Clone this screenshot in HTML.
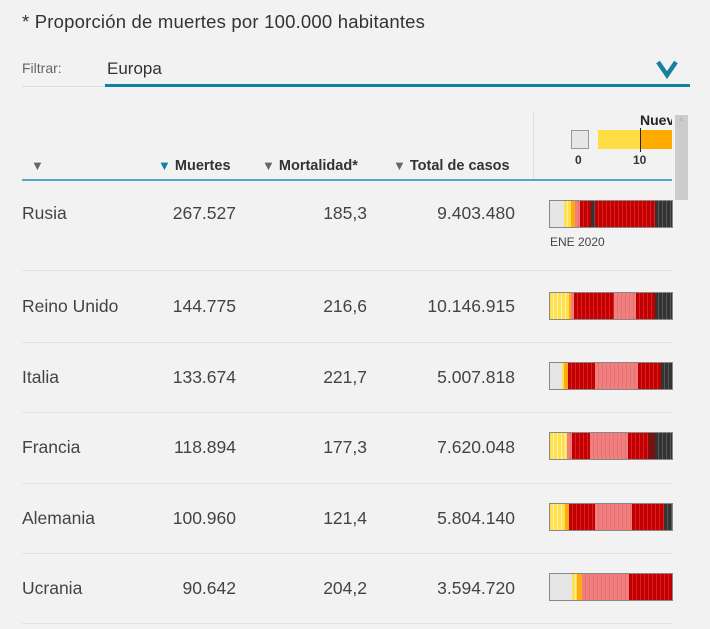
<!DOCTYPE html>
<html><head><meta charset="utf-8"><style>
body{margin:0;width:710px;height:629px;background:#f2f2f2;font-family:"Liberation Sans",sans-serif;color:#333;position:relative;overflow:hidden}
.a{position:absolute;white-space:nowrap}
.n{font-size:17.5px;color:#444}
.r{text-align:right}
.h{font-size:14.5px;font-weight:bold;color:#333;top:158px}
.tri{color:#666;font-size:13px}
.sep{position:absolute;left:22px;width:650px;height:1px;background:#e2e2e2}
.bar{position:absolute;left:549px;width:122px;height:26px;border:1px solid #888;display:flex;overflow:hidden}
.bar div{height:100%}
.g{background:#e6e6e6}.y{background:repeating-linear-gradient(90deg,#ffe050 0 3px,#fff0a0 3px 4px)}.o{background:#ffaa10}
.p{background:repeating-linear-gradient(90deg,#f08080 0 3px,#e87070 3px 4px)}
.rd{background:repeating-linear-gradient(90deg,#c00000 0 3px,#e02020 3px 4px)}
.d{background:repeating-linear-gradient(90deg,#333 0 3px,#555 3px 4px)}
</style></head><body>
<div class="a" style="left:22px;top:11px;font-size:18.5px;color:#333;letter-spacing:0.2px">* Proporción de muertes por 100.000 habitantes</div>
<div class="a" style="left:22px;top:60px;font-size:14px;color:#666">Filtrar:</div>
<div class="a" style="left:107px;top:59px;font-size:17px;color:#333">Europa</div>
<div class="a" style="left:22px;top:86px;width:83px;height:1px;background:#ddd"></div>
<div class="a" style="left:105px;top:84px;width:585px;height:3px;background:#17809e"></div>
<svg class="a" style="left:655px;top:59px" width="24" height="20"><path d="M3 3 L12 16 L21 3" fill="none" stroke="#17809e" stroke-width="4.5"/></svg>

<div class="a" style="left:533px;top:112px;width:1px;height:68px;background:#e0e0e0"></div>
<div class="a" style="left:675px;top:115px;width:13px;height:85px;background:#ccc"></div>
<div class="a" style="left:677px;top:114px;font-size:8px;color:#bbb">▲</div>
<div class="a" style="left:640px;top:112px;font-size:14px;font-weight:bold;color:#222;width:32px;overflow:hidden">Nuevos</div>
<div class="a" style="left:571px;top:130px;width:16px;height:17px;background:#e6e6e6;border:1px solid #999"></div>
<div class="a" style="left:598px;top:130px;width:42px;height:19px;background:#ffdd44"></div>
<div class="a" style="left:640px;top:130px;width:32px;height:19px;background:#ffaa00"></div>
<div class="a" style="left:640px;top:128px;width:1px;height:24px;background:#222"></div>
<div class="a" style="left:575px;top:153px;font-size:12px;font-weight:bold">0</div>
<div class="a" style="left:633px;top:153px;font-size:12px;font-weight:bold">10</div>

<div class="a tri" style="left:31px;top:158px">▼</div>
<div class="a h" style="left:158px"><span style="color:#17809e;font-size:13px">▼</span> Muertes</div>
<div class="a h" style="left:262px"><span class="tri">▼</span> Mortalidad*</div>
<div class="a h" style="left:393px"><span class="tri">▼</span> Total de casos</div>
<div class="a" style="left:22px;top:179px;width:650px;height:2px;background:#5aa6c0"></div>

<div class="a n" style="left:22px;top:203px">Rusia</div>
<div class="a n r" style="right:474px;top:203px">267.527</div>
<div class="a n r" style="right:343px;top:203px">185,3</div>
<div class="a n r" style="right:195px;top:203px">9.403.480</div>
<div class="bar" style="top:200px"><div class="g" style="width:14px"></div><div class="y" style="width:7px"></div><div class="o" style="width:4px"></div><div class="p" style="width:5px"></div><div class="rd" style="width:11px"></div><div class="d" style="width:4px"></div><div class="rd" style="width:60px"></div><div class="d" style="width:17px"></div></div>
<div class="a" style="left:550px;top:235px;font-size:12px;color:#444">ENE 2020</div>
<div class="sep" style="top:270px"></div>

<div class="a n" style="left:22px;top:296px">Reino Unido</div>
<div class="a n r" style="right:474px;top:296px">144.775</div>
<div class="a n r" style="right:343px;top:296px">216,6</div>
<div class="a n r" style="right:195px;top:296px">10.146.915</div>
<div class="bar" style="top:292px"><div class="y" style="width:19px"></div><div class="o" style="width:2px"></div><div class="p" style="width:3px"></div><div class="rd" style="width:40px"></div><div class="p" style="width:22px"></div><div class="rd" style="width:19px"></div><div class="d" style="width:17px"></div></div>
<div class="sep" style="top:342px"></div>

<div class="a n" style="left:22px;top:367px">Italia</div>
<div class="a n r" style="right:474px;top:367px">133.674</div>
<div class="a n r" style="right:343px;top:367px">221,7</div>
<div class="a n r" style="right:195px;top:367px">5.007.818</div>
<div class="bar" style="top:362px"><div class="g" style="width:12px"></div><div class="y" style="width:2px"></div><div class="o" style="width:4px"></div><div class="rd" style="width:27px"></div><div class="p" style="width:43px"></div><div class="rd" style="width:23px"></div><div class="d" style="width:11px"></div></div>
<div class="sep" style="top:412px"></div>

<div class="a n" style="left:22px;top:437px">Francia</div>
<div class="a n r" style="right:474px;top:437px">118.894</div>
<div class="a n r" style="right:343px;top:437px">177,3</div>
<div class="a n r" style="right:195px;top:437px">7.620.048</div>
<div class="bar" style="top:432px"><div class="y" style="width:17px"></div><div class="p" style="width:5px"></div><div class="rd" style="width:18px"></div><div class="p" style="width:38px"></div><div class="rd" style="width:20px"></div><div style="width:7px;background:#7a1010"></div><div class="d" style="width:17px"></div></div>
<div class="sep" style="top:483px"></div>

<div class="a n" style="left:22px;top:508px">Alemania</div>
<div class="a n r" style="right:474px;top:508px">100.960</div>
<div class="a n r" style="right:343px;top:508px">121,4</div>
<div class="a n r" style="right:195px;top:508px">5.804.140</div>
<div class="bar" style="top:503px"><div class="y" style="width:15px"></div><div class="o" style="width:4px"></div><div class="rd" style="width:26px"></div><div class="p" style="width:37px"></div><div class="rd" style="width:32px"></div><div class="d" style="width:8px"></div></div>
<div class="sep" style="top:553px"></div>

<div class="a n" style="left:22px;top:578px">Ucrania</div>
<div class="a n r" style="right:474px;top:578px">90.642</div>
<div class="a n r" style="right:343px;top:578px">204,2</div>
<div class="a n r" style="right:195px;top:578px">3.594.720</div>
<div class="bar" style="top:573px"><div class="g" style="width:22px"></div><div class="y" style="width:5px"></div><div class="o" style="width:5px"></div><div class="p" style="width:47px"></div><div class="rd" style="width:43px"></div></div>
<div class="sep" style="top:623px"></div>
</body></html>
